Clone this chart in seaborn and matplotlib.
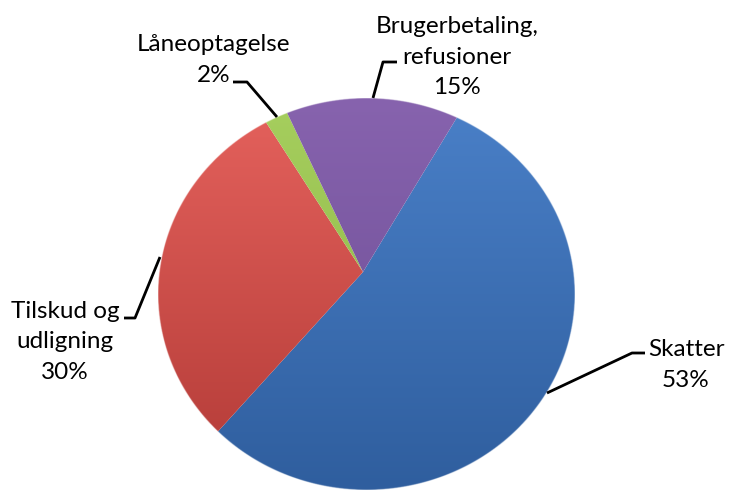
import matplotlib
matplotlib.use("Agg")
import matplotlib.pyplot as plt
import numpy as np
import seaborn as sns
from matplotlib.colors import to_rgb

categories = ["Skatter", "Tilskud og\nudligning", "Låneoptagelse", "Brugerbetaling,\nrefusioner"]
values = [53, 30, 2, 15]
pct_labels = ["53%", "30%", "2%", "15%"]
top_colors = ["#4A80C8", "#E5625D", "#A6CF5E", "#8763AE"]
bottom_colors = ["#2F5E9E", "#B23A36", "#8AB043", "#6A4B92"]

sns.set_theme(style="white")
plt.rcParams['font.family'] = ['Lato', 'DejaVu Sans']

W, H = 729, 493
fig = plt.figure(figsize=(W / 100, H / 100), dpi=100)
ax = fig.add_axes([0, 0, 1, 1])

CX, CY, RX, RY = 366, 294, 208, 196   # ellipse outline (pixels)
AX_, AY_ = 363, 272                   # apex where slices meet (pixels)


def px(x, y):
    return ((x - CX) / RX, (CY - y) / RY)


apex = px(AX_, AY_)
wedges, _ = ax.pie(values, startangle=60.2, counterclock=False, radius=1.3,
                   center=apex, colors=top_colors, wedgeprops=dict(linewidth=0))

N = 800
gx, gy = np.meshgrid(np.linspace(-1, 1, N), np.linspace(1, -1, N))
r = np.sqrt(gx ** 2 + gy ** 2)
alpha = np.clip((1 - r) * N / 2.5 + 0.5, 0, 1)
t = (gy + 1) / 2  # 1 at top, 0 at bottom
for w, c1, c2 in zip(wedges, top_colors, bottom_colors):
    w.set_facecolor("none")
    a1, a2 = np.array(to_rgb(c1)), np.array(to_rgb(c2))
    rgba = np.zeros((N, N, 4))
    rgba[..., :3] = a2 + (a1 - a2) * t[..., None]
    rgba[..., 3] = alpha
    im = ax.imshow(rgba, extent=[-1, 1, -1, 1], aspect="auto",
                   interpolation="bilinear", zorder=w.get_zorder() + 0.1)
    im.set_clip_path(w)

ax.set_xlim((0 - CX) / RX, (W - CX) / RX)
ax.set_ylim((CY - H) / RY, CY / RY)
ax.set_aspect("auto")
ax.axis("off")

fs = 17.5
label_pos = [(686, 365), (65, 342), (214, 60), (457, 57)]
leaders = [
    [(547, 393), (632, 353), (645, 353)],
    [(160, 257), (135, 318), (124, 318)],
    [(277, 117), (247, 82), (233, 82)],
    [(373, 98), (383, 62), (397, 62)],
]
for cat, pct, (lx, ly), pts in zip(categories, pct_labels, label_pos, leaders):
    tx, ty = px(lx, ly)
    ax.text(tx, ty, f"{cat}\n{pct}", ha="center", va="center", fontsize=fs,
            linespacing=1.58, color="black", zorder=10)
    xs, ys = zip(*[px(a, b) for a, b in pts])
    ax.plot(xs, ys, color="black", lw=2, solid_capstyle="butt", zorder=9)

fig.savefig("out.png", dpi=100)
